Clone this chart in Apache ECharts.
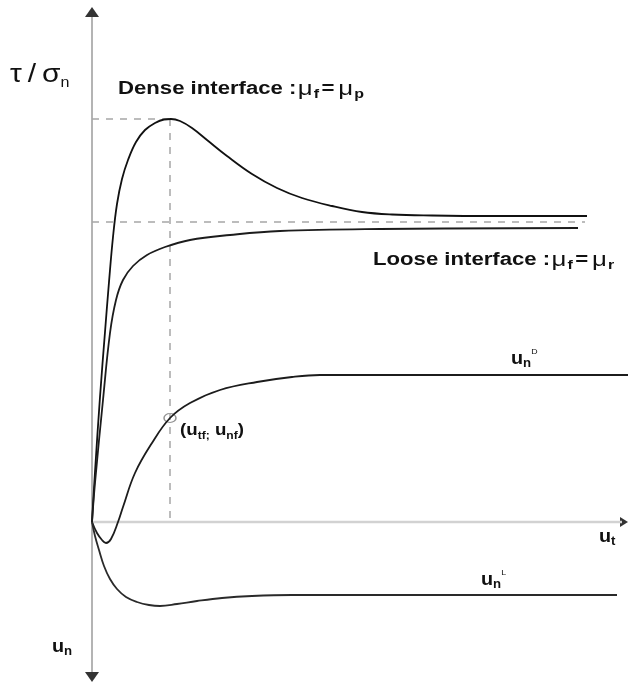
<!DOCTYPE html>
<html>
<head>
<meta charset="utf-8">
<script src="https://cdn.jsdelivr.net/npm/echarts@6/dist/echarts.min.js"></script>
<style>
  html, body { margin: 0; padding: 0; background: #fff; }
  #chart { width: 628px; height: 683px; }
</style>
</head>
<body>
<div id="chart"></div>
<script>
// Shear stress ratio and normal displacement versus tangential displacement
// (schematic, arbitrary units along both axes)

// Axis extents
const xRange = [0, 536];
const yRange = [-156, 514];

// Dense interface: peak then softening to residual level
const denseCurve = [[0,0],[3,50],[8,125],[13,190],[17,240],[21,285],[25,318],[30,343],[36,362],[44,380],[53,392],[63,399],[72,402.5],[79,403],
  [88,401],[100,394],[115,382],[135,366],[160,348],[185,334],[210,324],[240,316],[270,310],[300,307.5],[340,306.5],[400,306],[495,306]];

// Loose interface: monotonic hardening to residual level
const looseCurve = [[0,0],[3,39],[11,122],[18,189],[24,222],[31,242],[41,256],[55,267],[73,275],[98,282],[138,287],[188,291],[288,293],[486,294]];

// Normal displacement, dense (contraction then dilation)
const unDenseCurve = [[0,0],[5,-11],[10,-18],[14,-21],[19,-17],[26,0],[31,15],[43,49],[60,79],[78,104],[98,119],[128,132],[165,140],[200,145],[228,147],[536,147]];

// Normal displacement, loose (contraction only)
const unLooseCurve = [[0,0],[3,-14],[7,-28],[12,-44],[18,-57],[25,-67],[34,-75],[45,-80],[57,-83],[68,-84],[85,-82],[105,-79],[130,-76],[160,-74],[200,-73],[525,-73]];

// Reference levels
const peakPoint = [78, 403];
const residualLevel = 300;
const residualEnd = 493;
const failurePoint = [78, 104];

// Axis lines and arrow heads
const yAxisLine = [[0,-150],[0,505]];
const xAxisLine = [[0,0],[530,0]];
const arrowTips = [
  { value: [0, 510], rot: 0, size: [14, 10] },
  { value: [0, -155], rot: 180, size: [14, 10] },
  { value: [532, 0], rot: -90, size: [10, 8] }
];

const SANS = '"Liberation Sans", Arial, Helvetica, sans-serif';

const chart = echarts.init(document.getElementById('chart'));

function plain(data, color, width, dash) {
  return {
    type: 'line', data: data, showSymbol: false, symbol: 'none', silent: true,
    clip: false, smooth: false, animation: false,
    lineStyle: { color: color, width: width, type: dash || 'solid' }
  };
}
function curve(data, color, width) {
  return {
    type: 'line', data: data, showSymbol: false, symbol: 'none', silent: true,
    clip: false, smooth: 0.4, animation: false,
    lineStyle: { color: color, width: width }
  };
}

const dashed = [7, 7];

// Rich text styles shared by the annotations
const boldStyle = (size, lh) => ({ fontFamily: SANS, fontSize: size, fontWeight: 'bold', fill: '#111', lineHeight: lh, verticalAlign: 'middle' });
const subStyle = (size) => ({ fontFamily: SANS, fontSize: size, fontWeight: 'bold', fill: '#111', lineHeight: size, verticalAlign: 'bottom' });
const supStyle = { fontFamily: SANS, fontSize: 8, fill: '#111', lineHeight: 10, verticalAlign: 'top' };

function frictionLabel(x, y, head, last) {
  return {
    type: 'text', x: x, y: y, scaleX: 1.23,
    style: {
      text: '{b|' + head + '}{m|μ}{s|f}{e|=}{m|μ}{s|' + last + '}', verticalAlign: 'middle', align: 'left',
      rich: {
        b: boldStyle(18, 24),
        e: Object.assign(boldStyle(18, 24), { padding: [0, 2, 0, 1] }),
        m: { fontFamily: SANS, fontSize: 21, fill: '#111', lineHeight: 24, verticalAlign: 'middle', padding: [0, 0, 0, 1] },
        s: Object.assign(subStyle(13), { padding: [0, 1, 0, 1] })
      }
    }
  };
}

function symbolLabel(x, y, text, scale) {
  return {
    type: 'text', x: x, y: y, scaleX: scale || 1.1,
    style: {
      text: text, verticalAlign: 'middle', align: 'left',
      rich: { b: boldStyle(18, 22), s: subStyle(12), p: supStyle }
    }
  };
}

const option = {
  backgroundColor: '#ffffff',
  animation: false,
  grid: { left: 92, right: 0, top: 8, bottom: 5 },
  xAxis: { type: 'value', min: xRange[0], max: xRange[1], show: false },
  yAxis: { type: 'value', min: yRange[0], max: yRange[1], show: false },
  series: [
    plain(yAxisLine, '#8c8c8c', 1.3),
    plain(xAxisLine, '#d2d2d2', 2.5),
    plain([[0, peakPoint[1]], peakPoint], '#a6a6a6', 1.5, dashed),
    plain([peakPoint, [peakPoint[0], 0]], '#a6a6a6', 1.5, dashed),
    plain([[0, residualLevel], [residualEnd, residualLevel]], '#a6a6a6', 1.5, dashed),
    curve(denseCurve, '#111', 1.8),
    curve(looseCurve, '#1c1c1c', 1.8),
    curve(unDenseCurve, '#1c1c1c', 1.8),
    curve(unLooseCurve, '#2a2a2a', 1.8),
    {
      type: 'scatter', silent: true, clip: false, animation: false,
      data: arrowTips.map(a => ({ value: a.value, symbolRotate: a.rot, symbolSize: a.size })),
      symbol: 'triangle',
      itemStyle: { color: '#000' }
    },
    {
      type: 'scatter', silent: true, clip: false, animation: false,
      data: [failurePoint], symbol: 'circle', symbolSize: [12, 9],
      itemStyle: { color: 'rgba(255,255,255,0)', borderColor: '#777', borderWidth: 1.3 }
    }
  ],
  graphic: [
    {
      type: 'text', x: 10, y: 75, scaleX: 1.15,
      style: {
        text: '{g|τ\u2009/\u2009σ}{s|n}', verticalAlign: 'middle', align: 'left',
        rich: {
          g: { fontFamily: SANS, fontSize: 26, fill: '#111', lineHeight: 30, verticalAlign: 'middle' },
          s: { fontFamily: SANS, fontSize: 14, fill: '#111', lineHeight: 18, verticalAlign: 'bottom' }
        }
      }
    },
    frictionLabel(118, 89, 'Dense interface :', 'p'),
    frictionLabel(373, 260, 'Loose interface :', 'r'),
    {
      type: 'text', x: 180, y: 430, scaleX: 1.1,
      style: {
        text: '{b|(u}{s|tf;}{b| u}{s|nf}{b|)}', verticalAlign: 'middle', align: 'left',
        rich: { b: boldStyle(17, 22), s: subStyle(11) }
      }
    },
    symbolLabel(511, 359, '{b|u}{s|n}{p|D}'),
    symbolLabel(481, 580, '{b|u}{s|n}{p|L}'),
    symbolLabel(599, 537, '{b|u}{s|t}'),
    symbolLabel(52, 647, '{b|u}{s|n}')
  ]
};

chart.setOption(option);
</script>
</body>
</html>
